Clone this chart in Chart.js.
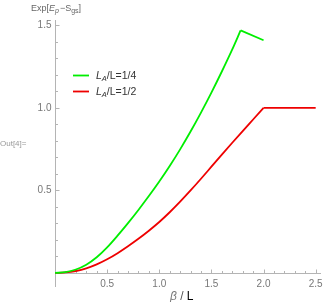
<!DOCTYPE html>
<html>
<head>
<meta charset="utf-8">
<script src="https://cdn.jsdelivr.net/npm/chart.js@4/dist/chart.umd.min.js"></script>
<style>
html,body{margin:0;padding:0;background:#fff;}
#wrap{position:relative;width:332px;height:302px;}
canvas{display:block;}
</style>
</head>
<body>
<div id="wrap"><canvas id="c" width="332" height="302"></canvas></div>
<script>
// ---- data ----
const betaQuarter = [0,0.1,0.2,0.3,0.4,0.5,0.6,0.7,0.8,0.9,1.0,1.1,1.2,1.3,1.4,1.5,1.6,1.7,1.78,2.0];
const valueQuarter = [0,0.005,0.021,0.050,0.095,0.155,0.226,0.302,0.382,0.466,0.554,0.648,0.749,0.857,0.972,1.093,1.221,1.355,1.47,1.41];
const betaHalf = [0,0.1,0.2,0.3,0.4,0.5,0.6,0.7,0.8,0.9,1.0,1.1,1.2,1.3,1.4,1.5,1.6,1.7,1.8,1.9,2.0,2.5];
const valueHalf = [0,0.003,0.012,0.028,0.052,0.083,0.120,0.162,0.207,0.256,0.309,0.368,0.432,0.500,0.571,0.644,0.717,0.789,0.860,0.930,1.0,1.0];
const seriesRatios = ["1/4","1/2"];
const seriesColors = ["#00ee00","#ee0000"];
const xMajorTicks = [0.5,1.0,1.5,2.0,2.5];
const yMajorTicks = [0.5,1.0,1.5];
const xMinorStep = 0.1;
const yMinorStep = 0.1;
// index of the kink in each series (curve is smooth on either side)
const kinkQuarter = 18;
const kinkHalf = 20;

const toPts = (xs, ys, a, b) => xs.slice(a, b).map((x, i) => ({x: x, y: ys.slice(a, b)[i]}));

const AXIS = '#b4b4b4';
const LABEL = '#777777';
const FONT = '"Liberation Sans", Arial, sans-serif';

const axesPlugin = {
  id: 'mmaAxes',
  beforeDatasetsDraw(chart) {
    const ctx = chart.ctx, xs = chart.scales.x, ys = chart.scales.y, ca = chart.chartArea;
    const x0 = Math.round(xs.getPixelForValue(0)) + 0.5;
    const y0 = Math.round(ys.getPixelForValue(0)) + 0.5;
    ctx.save();
    ctx.strokeStyle = AXIS;
    ctx.lineWidth = 1;
    ctx.beginPath();
    ctx.moveTo(x0, ca.top); ctx.lineTo(x0, ca.bottom);
    ctx.moveTo(x0, y0); ctx.lineTo(ca.right, y0);
    for (let v = xMinorStep; v <= xs.max + 1e-9; v += xMinorStep) {
      const isMajor = xMajorTicks.some(t => Math.abs(t - v) < 1e-6);
      const px = Math.round(xs.getPixelForValue(v)) + 0.5;
      ctx.moveTo(px, y0); ctx.lineTo(px, y0 - (isMajor ? 4 : 2.5));
    }
    for (let v = yMinorStep; v <= ys.max + 1e-9; v += yMinorStep) {
      const isMajor = yMajorTicks.some(t => Math.abs(t - v) < 1e-6);
      const py = Math.round(ys.getPixelForValue(v)) + 0.5;
      ctx.moveTo(x0, py); ctx.lineTo(x0 + (isMajor ? 4 : 2.5), py);
    }
    ctx.stroke();

    ctx.fillStyle = LABEL;
    ctx.font = '10px ' + FONT;
    ctx.textAlign = 'center';
    ctx.textBaseline = 'middle';
    xMajorTicks.forEach(t => {
      ctx.fillText(t.toFixed(1), xs.getPixelForValue(t), y0 + 11);
    });
    ctx.textAlign = 'right';
    yMajorTicks.forEach(t => {
      ctx.fillText(t.toFixed(1), x0 - 4, ys.getPixelForValue(t));
    });
    ctx.restore();
  },
  afterDraw(chart) {
    const ctx = chart.ctx;
    ctx.save();
    ctx.textBaseline = 'alphabetic';
    let x = 31, y = 11;
    const seg = (txt, font, color, dy) => {
      ctx.font = font; ctx.fillStyle = color;
      ctx.fillText(txt, x, y + (dy || 0));
      x += ctx.measureText(txt).width;
    };
    ctx.textAlign = 'left';
    const tc = '#666666';
    seg('Exp[', '9px ' + FONT, tc);
    seg('E', 'italic 9px ' + FONT, tc);
    seg('p', 'italic 7px ' + FONT, tc, 2);
    x += 1;
    seg('\u2212', '9px ' + FONT, tc);
    seg('S', '9px ' + FONT, tc);
    seg('gs', '7px ' + FONT, tc, 2);
    seg(']', '9px ' + FONT, tc);

    x = 170; y = 300;
    seg('\u03B2', 'italic 12px ' + FONT, '#777777');
    seg(' / ', '12px ' + FONT, '#555555');
    seg('L', '12px ' + FONT, '#000000');

    ctx.font = '8px ' + FONT;
    ctx.fillStyle = '#999999';
    ctx.fillText('Out[4]=', 0, 146);

    const legendY = [75, 91];
    seriesColors.forEach((col, i) => {
      const ly = legendY[i];
      ctx.strokeStyle = col;
      ctx.lineWidth = 1.8;
      ctx.beginPath();
      ctx.moveTo(73, ly + 0.5); ctx.lineTo(89, ly + 0.5);
      ctx.stroke();
      x = 96; y = ly + 4;
      const c = '#333333';
      seg('L', 'italic 10.5px ' + FONT, c);
      seg('A', 'italic 7.5px ' + FONT, c, 2);
      seg('/L=' + seriesRatios[i], '10.5px ' + FONT, c);
    });
    ctx.restore();
  }
};

const mk = (label, pts, col) => ({label: label, data: pts, borderColor: col, backgroundColor: col, showLine: true, pointRadius: 0, borderWidth: 1.8, cubicInterpolationMode: 'monotone'});

new Chart(document.getElementById('c'), {
  type: 'scatter',
  data: {
    datasets: [
      mk('L_A/L=' + seriesRatios[0], toPts(betaQuarter, valueQuarter, 0, kinkQuarter + 1), seriesColors[0]),
      mk('L_A/L=' + seriesRatios[0] + ' (after kink)', toPts(betaQuarter, valueQuarter, kinkQuarter), seriesColors[0]),
      mk('L_A/L=' + seriesRatios[1], toPts(betaHalf, valueHalf, 0, kinkHalf + 1), seriesColors[1]),
      mk('L_A/L=' + seriesRatios[1] + ' (after kink)', toPts(betaHalf, valueHalf, kinkHalf), seriesColors[1])
    ]
  },
  options: {
    responsive: false,
    devicePixelRatio: 1,
    animation: false,
    layout: {padding: {left: 55, top: 20, right: 11, bottom: 15}},
    plugins: {legend: {display: false}, tooltip: {enabled: false}},
    scales: {
      x: {type: 'linear', min: 0, max: 2.551, display: false},
      y: {type: 'linear', min: -0.085, max: 1.533, display: false}
    }
  },
  plugins: [axesPlugin]
});
</script>
</body>
</html>
